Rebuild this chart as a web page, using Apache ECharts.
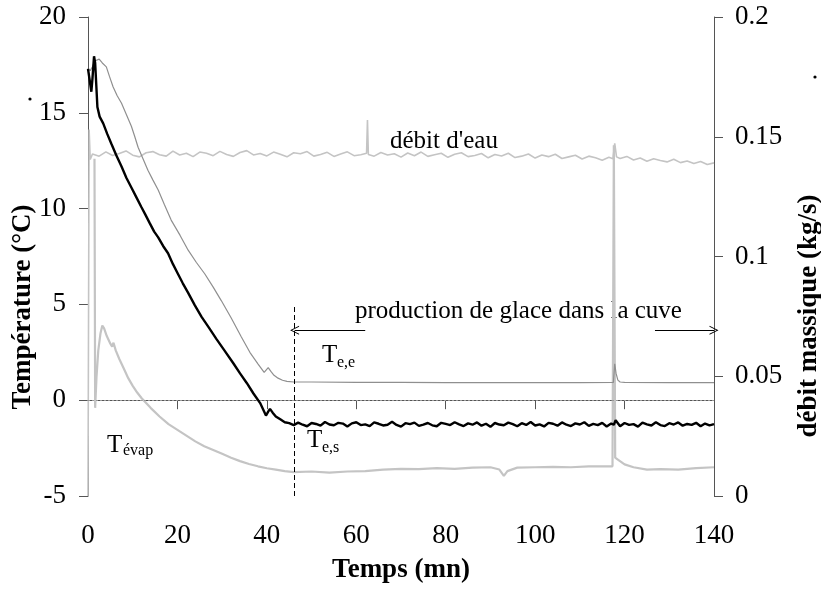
<!DOCTYPE html>
<html>
<head>
<meta charset="utf-8">
<script src="https://cdn.jsdelivr.net/npm/echarts@6/dist/echarts.min.js"></script>
<style>html,body{margin:0;padding:0;background:#fff}#c{width:821px;height:592px}</style>
</head>
<body>
<div id="c"></div>
<script>
// ---- data (time in min, value) ----
var xTicks = [0, 20, 40, 60, 80, 100, 120, 140];
var leftTicks = [-5, 0, 5, 10, 15, 20];
var rightTicks = [0, 0.05, 0.1, 0.15, 0.2];

var teeData = [[0,17.3],[0.5,17.2],[1,17.4],[1.5,17.7],[1.9,17.8],[2.5,17.8],[3.2,17.6],[4.1,17.4],[4.8,16.9],[5.6,16.36],[6.5,15.9],[7.5,15.5],[8.6,14.9],[9.7,14.3],[10.4,13.8],[11.2,13.2],[12.3,12.6],[13.4,12.0],[14.5,11.5],[15.7,10.97],[17.1,10.2],[18.6,9.4],[20.6,8.6],[22.4,7.83],[24.2,7.2],[26.1,6.6],[28,5.9],[29.8,5.2],[32,4.3],[34.3,3.3],[36.2,2.5],[38,1.9],[39.4,1.45],[40.3,1.7],[40.9,1.5],[41.6,1.3],[42.5,1.15],[43.5,1.04],[44.5,0.98],[46,0.95],[50,0.95],[60,0.93],[70,0.93],[80,0.92],[90,0.92],[100,0.92],[110,0.92],[117.5,0.93],[117.8,1.9],[118.1,1.4],[118.5,1.05],[119,0.95],[120,0.93],[130,0.92],[140,0.92]];

var tesData = [[0,17.3],[0.4,17.2],[0.75,16.1],[1.0,16.8],[1.35,17.95],[1.6,17.6],[2.1,15.3],[2.6,14.8],[3.4,14.45],[4.3,13.9],[5.2,13.4],[6.3,12.8],[7.5,12.2],[8.6,11.6],[9.7,11.1],[10.8,10.6],[11.9,10.1],[12.8,9.7],[13.8,9.24],[14.8,8.8],[15.7,8.5],[16.8,8.05],[17.9,7.67],[19.0,7.1],[20.1,6.6],[21.2,6.1],[22.4,5.6],[23.9,4.95],[25.4,4.35],[27.0,3.8],[28.7,3.2],[30.5,2.6],[32.5,1.93],[34.0,1.4],[35.5,0.9],[37.0,0.35],[38.5,-0.15],[39.2,-0.5],[39.8,-0.8],[40.3,-0.6],[40.7,-0.45],[41.3,-0.65],[42.0,-0.85],[43.0,-1.0],[44.0,-1.15],[45,-1.20],[46,-1.30],[47,-1.17],[48,-1.28],[49,-1.36],[50,-1.19],[51,-1.24],[52,-1.33],[53,-1.14],[54,-1.27],[55,-1.31],[56,-1.18],[57,-1.22],[58,-1.37],[59,-1.21],[60,-1.15],[61,-1.30],[62,-1.26],[63,-1.35],[64,-1.16],[65,-1.23],[66,-1.32],[67,-1.28],[68,-1.13],[69,-1.29],[70,-1.38],[71,-1.20],[72,-1.25],[73,-1.17],[74,-1.34],[75,-1.27],[76,-1.19],[77,-1.31],[78,-1.36],[79,-1.18],[80,-1.24],[81,-1.30],[82,-1.15],[83,-1.26],[84,-1.35],[85,-1.21],[86,-1.28],[87,-1.16],[88,-1.33],[89,-1.23],[90,-1.39],[91,-1.19],[92,-1.27],[93,-1.31],[94,-1.17],[95,-1.25],[96,-1.36],[97,-1.20],[98,-1.29],[99,-1.14],[100,-1.32],[101,-1.26],[102,-1.37],[103,-1.18],[104,-1.23],[105,-1.33],[106,-1.16],[107,-1.28],[108,-1.35],[109,-1.21],[110,-1.27],[111,-1.15],[112,-1.34],[113,-1.24],[114,-1.30],[115,-1.18],[116,-1.37],[117,-1.22],[117.6,-1.28],[118,-1.05],[118.5,-1.20],[119,-1.36],[120,-1.19],[121,-1.29],[122,-1.25],[123,-1.38],[124,-1.17],[125,-1.26],[126,-1.32],[127,-1.15],[128,-1.30],[129,-1.35],[130,-1.20],[131,-1.27],[132,-1.16],[133,-1.33],[134,-1.24],[135,-1.29],[136,-1.18],[137,-1.36],[138,-1.22],[139,-1.31],[140,-1.25]];

var tevapData = [[1.45,12.6],[1.6,-0.4],[1.9,1.2],[2.3,2.6],[2.8,3.5],[3.2,3.9],[3.6,3.75],[4.2,3.35],[5.0,2.95],[5.4,2.8],[5.7,3.0],[6.2,2.6],[7,2.15],[8,1.65],[9,1.15],[10,0.75],[11,0.4],[12,0.1],[13,-0.15],[14,-0.4],[16,-0.85],[18,-1.25],[20,-1.55],[22,-1.85],[24,-2.15],[26,-2.4],[28,-2.6],[30,-2.8],[32,-3.0],[34,-3.18],[36,-3.33],[38,-3.45],[40,-3.55],[42,-3.62],[44,-3.7],[46,-3.75],[50,-3.72],[54,-3.78],[58,-3.72],[62,-3.7],[66,-3.62],[70,-3.58],[74,-3.6],[78,-3.55],[82,-3.58],[86,-3.52],[90,-3.5],[92,-3.62],[93,-3.95],[93.8,-3.7],[96,-3.52],[100,-3.5],[104,-3.48],[108,-3.5],[112,-3.45],[116,-3.45],[117.3,-3.45],[117.6,13.3],[117.9,-3.0],[118.5,-3.1],[120,-3.35],[122,-3.5],[125,-3.62],[128,-3.6],[132,-3.62],[136,-3.55],[140,-3.5]];

var debitData = [[0,0],[0.25,0.153],[0.5,0.1405],[1,0.1428],[2.5,0.1419],[4,0.1437],[5.5,0.1422],[7,0.1430],[8.5,0.1441],[10,0.1423],[11.5,0.1416],[13,0.1433],[14.5,0.1438],[16,0.1425],[17.5,0.1419],[19,0.1440],[20.5,0.1424],[22,0.1431],[23.5,0.1417],[25,0.1436],[26.5,0.1431],[28,0.1421],[29.5,0.1439],[31,0.1426],[32.5,0.1418],[34,0.1434],[35.5,0.1442],[37,0.1424],[38.5,0.1430],[40,0.1420],[41.5,0.1436],[43,0.1427],[44.5,0.1416],[46,0.1433],[47.5,0.1429],[49,0.1438],[50.5,0.1419],[52,0.1426],[53.5,0.1435],[55,0.1418],[56.5,0.1428],[58,0.1437],[59.5,0.1421],[61,0.1425],[62.3,0.1431],[62.5,0.157],[62.7,0.1426],[64,0.1419],[65.5,0.1434],[67,0.1424],[68.5,0.1429],[70,0.1415],[71.5,0.1432],[73,0.1421],[74.5,0.1436],[76,0.1418],[77.5,0.1425],[79,0.1431],[80.5,0.1414],[82,0.1427],[83.5,0.1433],[85,0.1417],[86.5,0.1422],[88,0.1430],[89.5,0.1412],[91,0.1426],[92.5,0.1420],[94,0.1431],[95.5,0.1413],[97,0.1419],[98.5,0.1428],[100,0.1411],[101.5,0.1424],[103,0.1417],[104.5,0.1427],[106,0.1409],[107.5,0.1416],[109,0.1423],[110.5,0.1407],[112,0.1419],[113.5,0.1412],[115,0.1402],[116.5,0.1414],[117.4,0.1408],[117.8,0.1472],[118.2,0.1416],[119,0.1409],[120.5,0.1418],[122,0.1403],[123.5,0.1411],[125,0.1398],[126.5,0.1408],[128,0.1401],[129.5,0.1395],[131,0.1406],[132.5,0.1392],[134,0.1399],[135.5,0.1388],[137,0.1397],[138.5,0.1384],[140,0.1391]];

var iceStart = 46.2;   // start of ice production (min)
var dashTop = 4.9;     // top of the dashed marker (°C)
var arrowY = 3.65;     // arrows level (°C)

var FONT = '"Liberation Serif", "Times New Roman", serif';
var arrowSym = 'path://M5,0 L10,10 L8.8,10 L5,2.2 L1.2,10 L0,10 Z';

var chart = echarts.init(document.getElementById('c'), null, {renderer: 'canvas'});

var axisCommon = {
  axisLine: {show: true, lineStyle: {color: '#555', width: 1}},
  axisTick: {show: true, inside: false, length: 9, lineStyle: {color: '#555', width: 1}},
  splitLine: {show: false},
  axisLabel: {fontFamily: FONT, fontSize: 27, color: '#000'}
};

var option = {
  animation: false,
  backgroundColor: '#fff',
  grid: {left: 88, right: 107, top: 17, bottom: 96, containLabel: false},
  xAxis: Object.assign({}, axisCommon, {
    type: 'value', min: xTicks[0], max: xTicks[xTicks.length - 1], interval: 20,
    axisLabel: Object.assign({}, axisCommon.axisLabel, {margin: 26})
  }),
  yAxis: [
    Object.assign({}, axisCommon, {
      type: 'value', min: leftTicks[0], max: leftTicks[leftTicks.length - 1], interval: 5,
      axisLabel: Object.assign({}, axisCommon.axisLabel, {margin: 22})
    }),
    Object.assign({}, axisCommon, {
      type: 'value', position: 'right', min: rightTicks[0], max: rightTicks[rightTicks.length - 1], interval: 0.05,
      axisLabel: Object.assign({}, axisCommon.axisLabel, {margin: 21})
    })
  ],
  series: [
    {
      name: 'Tévap', type: 'line', data: tevapData, yAxisIndex: 0, showSymbol: false, silent: true,
      lineStyle: {color: '#c4c4c4', width: 2.2}, z: 2,
      markLine: {
        silent: true, symbol: ['none', arrowSym], symbolSize: [9, 9], animation: false,
        label: {show: false},
        lineStyle: {color: '#000', width: 1, type: 'solid'},
        data: [
          [{coord: [62, arrowY]}, {coord: [iceStart, arrowY]}],
          [{coord: [126.8, arrowY]}, {coord: [140, arrowY]}]
        ]
      }
    },
    {
      name: 'débit d\'eau', type: 'line', data: debitData, yAxisIndex: 1, showSymbol: false, silent: true,
      lineStyle: {color: '#c4c4c4', width: 1.6}, z: 3
    },
    {
      name: 'Te,e', type: 'line', data: teeData, yAxisIndex: 0, showSymbol: false, silent: true,
      lineStyle: {color: '#8f8f8f', width: 1.2}, z: 4,
      markLine: {
        silent: true, symbol: ['none', 'none'], animation: false, label: {show: false},
        lineStyle: {color: '#999', width: 1, type: [2, 2]},
        data: [[{coord: [xTicks[0], 0]}, {coord: [xTicks[xTicks.length - 1], 0]}]]
      }
    },
    {
      name: 'Te,s', type: 'line', data: tesData, yAxisIndex: 0, showSymbol: false, silent: true,
      lineStyle: {color: '#000', width: 2.4}, z: 5,
      markLine: {
        silent: true, symbol: ['none', 'none'], animation: false, label: {show: false},
        lineStyle: {color: '#000', width: 1, type: [5, 3]},
        data: [[{coord: [iceStart, leftTicks[0]]}, {coord: [iceStart, dashTop]}]]
      }
    }
  ],
  graphic: [
    {type: 'text', left: 390, top: 129, style: {text: 'débit d\'eau', font: '25px ' + FONT, fill: '#000'}},
    {type: 'text', left: 355, top: 299, style: {text: 'production de glace dans la cuve', font: '25px ' + FONT, fill: '#000'}},
    {type: 'text', left: 322, top: 343, style: {text: 'T', font: '25px ' + FONT, fill: '#000'}},
    {type: 'text', left: 337, top: 355, style: {text: 'e,e', font: '16px ' + FONT, fill: '#000'}},
    {type: 'text', left: 307, top: 428, style: {text: 'T', font: '25px ' + FONT, fill: '#000'}},
    {type: 'text', left: 322, top: 440, style: {text: 'e,s', font: '16px ' + FONT, fill: '#000'}},
    {type: 'text', left: 107, top: 433, style: {text: 'T', font: '25px ' + FONT, fill: '#000'}},
    {type: 'text', left: 123, top: 443, style: {text: 'évap', font: '16px ' + FONT, fill: '#000'}},
    {type: 'text', x: 23, y: 307, rotation: Math.PI / 2, style: {text: 'Température (°C)', font: 'bold 27px ' + FONT, fill: '#000', align: 'center', verticalAlign: 'middle'}},
    {type: 'text', x: 809, y: 316, rotation: Math.PI / 2, style: {text: 'débit massique (kg/s)', font: 'bold 27px ' + FONT, fill: '#000', align: 'center', verticalAlign: 'middle'}},
    {type: 'text', x: 401, y: 570, style: {text: 'Temps (mn)', font: 'bold 27px ' + FONT, fill: '#000', align: 'center', verticalAlign: 'middle'}},
    {type: 'circle', shape: {cx: 30, cy: 99, r: 1.6}, style: {fill: '#000'}},
    {type: 'circle', shape: {cx: 815, cy: 77, r: 1.6}, style: {fill: '#000'}}
  ]
};
chart.setOption(option);
</script>
</body>
</html>
